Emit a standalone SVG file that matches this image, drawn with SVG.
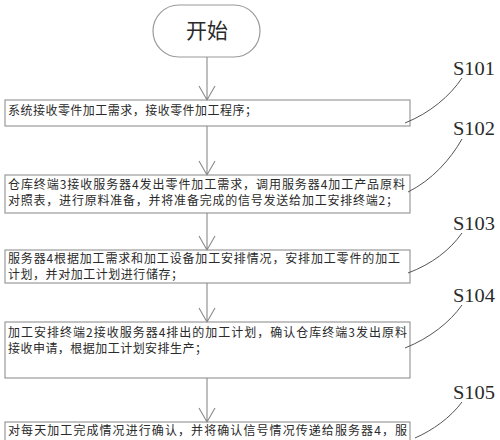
<svg xmlns="http://www.w3.org/2000/svg" width="500" height="440" viewBox="0 0 500 440">
<defs>
<style>
.box{fill:#fff;stroke:#9a9a9a;stroke-width:1.2}
.t{font-family:"Noto Sans CJK SC","Noto Sans",sans-serif;font-size:12px;fill:#2a2a2a}
.s{font-family:"Liberation Serif",serif;font-size:19px;fill:#2a2a2a}
.ln{fill:none;stroke:#8a8a8a;stroke-width:1.1}
.lead{fill:none;stroke:#555;stroke-width:1}
</style>
</defs>
<rect width="500" height="440" fill="#fff"/>
<g id="start">
<rect class="box" x="153" y="5" width="107" height="52" rx="26"/>
<text x="207" y="38" text-anchor="middle" style="font-family:'Noto Sans CJK SC',sans-serif;font-size:21px;fill:#2a2a2a">开始</text>
</g>
<g id="S101">
<rect class="box" x="5" y="100" width="405" height="26"/>
<text class="t" x="8" y="115" textLength="249" lengthAdjust="spacing">系统接收零件加工需求，接收零件加工程序；</text>
</g>
<g id="S102">
<rect class="box" x="5" y="175" width="405" height="38"/>
<text class="t" x="8" y="189" textLength="397" lengthAdjust="spacing">仓库终端3接收服务器4发出零件加工需求，调用服务器4加工产品原料</text>
<text class="t" x="8" y="205" textLength="390" lengthAdjust="spacing">对照表，进行原料准备，并将准备完成的信号发送给加工安排终端2；</text>
</g>
<g id="S103">
<rect class="box" x="5" y="250" width="405" height="33"/>
<text class="t" x="8" y="263" textLength="392" lengthAdjust="spacing">服务器4根据加工需求和加工设备加工安排情况，安排加工零件的加工</text>
<text class="t" x="8" y="279" textLength="175" lengthAdjust="spacing">计划，并对加工计划进行储存；</text>
</g>
<g id="S104">
<rect class="box" x="5" y="322" width="405" height="56"/>
<text class="t" x="8" y="337" textLength="399" lengthAdjust="spacing">加工安排终端2接收服务器4排出的加工计划，确认仓库终端3发出原料</text>
<text class="t" x="8" y="353" textLength="199" lengthAdjust="spacing">接收申请，根据加工计划安排生产；</text>
</g>
<g id="S105">
<rect class="box" x="5" y="422" width="405" height="30"/>
<text class="t" x="8" y="435" textLength="399" lengthAdjust="spacing">对每天加工完成情况进行确认，并将确认信号情况传递给服务器4，服</text>
</g>
<g id="labels">
<text class="s" x="453" y="75" textLength="42" lengthAdjust="spacingAndGlyphs">S101</text>
<text class="s" x="453" y="135" textLength="42" lengthAdjust="spacingAndGlyphs">S102</text>
<text class="s" x="453" y="230" textLength="42" lengthAdjust="spacingAndGlyphs">S103</text>
<text class="s" x="453" y="302" textLength="42" lengthAdjust="spacingAndGlyphs">S104</text>
<text class="s" x="453" y="399" textLength="42" lengthAdjust="spacingAndGlyphs">S105</text>
</g>
<g id="connectors">
<path class="ln" d="M207 57V100M199 86L207 100L215 86"/>
<path class="ln" d="M207 126V175M199 161L207 175L215 161"/>
<path class="ln" d="M207 213V250M199 236L207 250L215 236"/>
<path class="ln" d="M207 283V322M199 308L207 322L215 308"/>
<path class="ln" d="M207 378V422M199 408L207 422L215 408"/>
<path class="lead" d="M462 78C450 96 430 113 405 123"/>
<path class="lead" d="M462 139C450 160 432 180 408 192"/>
<path class="lead" d="M462 233C450 250 432 264 408 273"/>
<path class="lead" d="M462 305C450 322 430 338 405 348"/>
<path class="lead" d="M462 402C450 418 433 430 415 438"/>
</g>
</svg>
